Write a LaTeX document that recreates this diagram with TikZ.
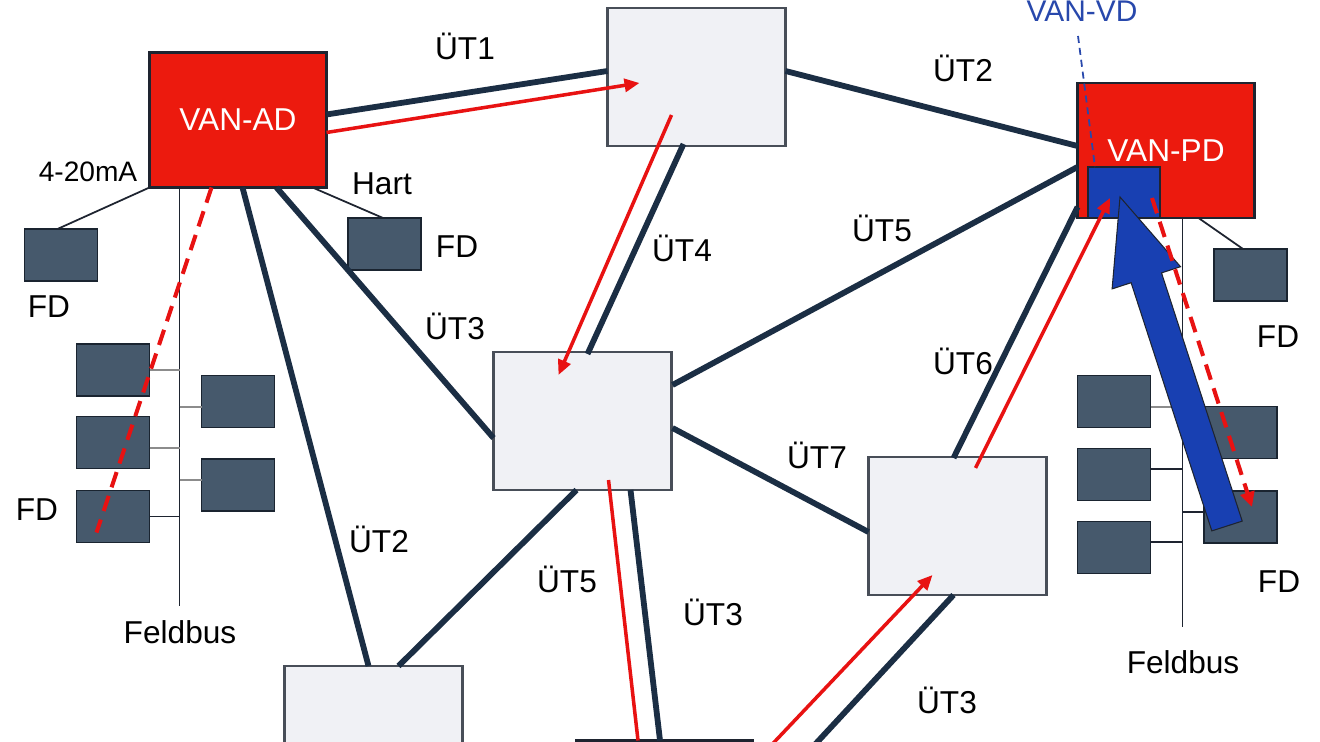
\documentclass[tikz,border=0pt]{standalone}
\usepackage{fontspec}
\setmainfont{Liberation Sans}
\usetikzlibrary{calc,arrows.meta}
\definecolor{navy}{RGB}{27,46,68}
\definecolor{vanred}{RGB}{236,26,14}
\definecolor{flowred}{RGB}{232,18,18}
\definecolor{edge}{RGB}{30,36,48}
\definecolor{sitefill}{RGB}{240,241,245}
\definecolor{siteedge}{RGB}{72,78,88}
\definecolor{fdfill}{RGB}{70,89,108}
\definecolor{fdedge}{RGB}{26,36,48}
\definecolor{vdblue}{RGB}{24,64,178}
\definecolor{vdtext}{RGB}{40,72,172}
\definecolor{tapgray}{RGB}{140,140,140}
\newcommand\lblfont{\fontsize{18}{21}\selectfont}
\begin{document}
\begin{tikzpicture}[x=0.2mm,y=-0.2mm,
  vanbox/.style={draw=edge,fill=vanred,line width=1.4pt,minimum width=35.4mm,minimum height=27mm,inner sep=0,outer sep=0,text=white,font=\lblfont},
  sitebox/.style={draw=siteedge,fill=sitefill,line width=1.2pt,minimum width=35.6mm,minimum height=27.6mm,inner sep=0,outer sep=0},
  fdbox/.style={draw=fdedge,fill=fdfill,line width=1.1pt,minimum width=14.6mm,minimum height=10.4mm,inner sep=0,outer sep=0},
  vdbox/.style={draw=edge,fill=vdblue,line width=1.1pt,minimum width=14.4mm,minimum height=10.2mm,inner sep=0,outer sep=0},
  lbl/.style={font=\lblfont,anchor=base,inner sep=0,text=black},
  link/.style={draw=navy,line width=3.3pt},
  flow/.style={draw=flowred,line width=2pt,-{Triangle[length=3mm,width=2.6mm]}},
  plainflow/.style={draw=flowred,line width=2pt},
  dashflow/.style={draw=flowred,line width=2.3pt,dash pattern=on 3.2mm off 1.8mm},
  bus/.style={draw=edge,line width=0.9pt},
  tap/.style={draw=tapgray,line width=1.2pt},
  tapdark/.style={draw=edge,line width=1pt},
  thin/.style={draw=edge,line width=1pt},
  vdline/.style={draw=vdtext,line width=1pt,dash pattern=on 1.4mm off 1mm},
  bigarrow/.style={fill=vdblue,draw=edge,line width=0.6pt}
]
\useasboundingbox (0,0) rectangle (1320,742);
\clip (0,0) rectangle (1320,742);
\fill[white] (0,0) rectangle (1320,742);

% main boxes
\node[vanbox] (ad) at (238,120) {VAN-AD};
\node[sitebox] (t) at (696.5,77) {};
\node[vanbox] (pd) at (1166,150.5) {VAN-PD};
\node[vdbox] (vd) at (1124,192.5) {};
\node[sitebox] (m) at (582.5,421) {};
\node[sitebox] (b3) at (957.5,526) {};
\node[sitebox] (b4) at (373.5,735) {};
\node[vanbox] (b5) at (664.5,808) {};

% field devices left
\node[fdbox] (fd1) at (61,255) {};
\node[fdbox] (fdh) at (384.5,244) {};
\node[fdbox] (la) at (113,370) {};
\node[fdbox] (lb) at (113,442.5) {};
\node[fdbox] (lc) at (113,516.5) {};
\node[fdbox] (ld) at (238,401.5) {};
\node[fdbox] (le) at (238,485) {};
% field devices right
\node[fdbox] (fdr) at (1250.5,275) {};
\node[fdbox] (rf) at (1114,401.5) {};
\node[fdbox] (rg) at (1114,474.5) {};
\node[fdbox] (rh) at (1114,547.5) {};
\node[fdbox] (ri) at (1240.5,432.5) {};
\node[fdbox] (rj) at (1240.5,517) {};

% field buses
\coordinate (busL) at ($(ad.south west)+(30,0)$);
\coordinate (busLend) at ($(busL)+(0,418)$);
\draw[bus] (busL) -- (busLend);
\draw[tap] (la.east) -- (la.east -| busL);
\draw[tap] ([yshift=-3pt]lb.east) -- ([yshift=-3pt]lb.east -| busL);
\draw[tapdark] (lc.east) -- (lc.east -| busL);
\draw[tap] ([yshift=-3pt]ld.west -| busL) -- ([yshift=-3pt]ld.west);
\draw[tap] ([yshift=3pt]le.west -| busL) -- ([yshift=3pt]le.west);

\coordinate (busR) at ($(pd.south west)+(105,0)$);
\coordinate (busRend) at ($(busR)+(0,409)$);
\draw[bus] (busR) -- (busRend);
\draw[tap] ([yshift=-3pt]rf.east) -- ([yshift=-3pt]rf.east -| busR);
\draw[tapdark] ([yshift=3pt]rg.east) -- ([yshift=3pt]rg.east -| busR);
\draw[tapdark] ([yshift=3pt]rh.east) -- ([yshift=3pt]rh.east -| busR);
\draw[tapdark] (ri.west -| busR) -- (ri.west);
\draw[tapdark] ([yshift=3pt]rj.west -| busR) -- ([yshift=3pt]rj.west);

% 4-20mA, Hart lines
\draw[thin] (ad.south west) -- ($(fd1.north west)+(33,0)$);
\draw[thin] ($(ad.south west)+(163,0)$) -- ($(fdh.north west)+(35,0)$);
\draw[thin] ($(pd.south west)+(121,0)$) -- ($(fdr.north west)+(29,0)$);

% transmission links (dark)
\draw[link] ($(ad.north west)+(177,62)$) -- ($(t.north west)+(0,63)$);
\draw[link] ($(t.north west)+(178,63)$) -- ($(pd.north west)+(0,63)$);
\draw[link] ($(t.north west)+(76,136)$) -- ($(m.north west)+(94,2)$);
\draw[link] ($(m.north west)+(179,33)$) -- ($(pd.north west)+(0,84)$);
\draw[link] ($(ad.south west)+(127,0)$) -- ($(m.north west)+(0,86)$);
\draw[link] ($(ad.south west)+(93,0)$) -- ($(b4.north west)+(84,0)$);
\draw[link] ($(b4.north west)+(114,0)$) -- ($(m.south west)+(83,0)$);
\draw[link] ($(m.north west)+(179,76)$) -- ($(b3.north west)+(0,75)$);
\draw[link] ($(b3.north west)+(85,1)$) -- ($(pd.north west)+(0,124)$);
\draw[link] ($(m.south west)+(137,0)$) -- ($(b5.north west)+(84,0)$);
\draw[link] ($(b3.south west)+(85,0)$) -- ($(b5.north west)+(214,31)$);

% red flows
\draw[flow] ($(ad.north west)+(177,80)$) -- ($(t.north west)+(32,75)$);
\draw[flow] ($(t.north west)+(64,107)$) -- ($(m.north west)+(65,23)$);
\draw[flow] ($(b3.north west)+(107,11)$) -- ($(vd.north west)+(22,31)$);
\draw[plainflow] ($(m.south west)+(115,-10)$) -- ($(b5.north west)+(62,0)$);
\draw[flow] ($(b5.north west)+(177,24)$) -- ($(b3.south west)+(64,-20)$);

% dashed red paths
\draw[dashflow] ($(ad.south west)+(62,0)$) -- ($(lc.north west)+(20,42)$);

% VAN-VD marker
\node[lbl,text=vdtext,font=\fontsize{17}{20}\selectfont] (vdlbl) at (1082,22) {VAN-VD};
\coordinate (vdtop) at (1078,36);
\draw[vdline] (vdtop) -- ($(vd.north west)+(7,0)$);

% big blue arrow
\draw[bigarrow] (1120,197) -- (1180.5,266.7) -- (1161.5,272.9) -- (1242.2,521.1)
  -- (1211.8,530.9) -- (1131.1,282.7) -- (1112.1,288.9) -- cycle;

\draw[dashflow,-{Triangle[length=3mm,width=2.8mm]}] ($(vd.north west)+(64,31)$) -- ($(rj.north west)+(48,16)$);

% labels
\node[lbl] (u1) at (465,60) {ÜT1};
\node[lbl] (u2a) at (963,82) {ÜT2};
\node[lbl] (u4) at (682,262) {ÜT4};
\node[lbl] (u5a) at (882,242) {ÜT5};
\node[lbl] (u3a) at (455,340) {ÜT3};
\node[lbl] (u6) at (963,375) {ÜT6};
\node[lbl] (u7) at (817,468) {ÜT7};
\node[lbl] (u2b) at (379,552) {ÜT2};
\node[lbl] (u5b) at (567,592) {ÜT5};
\node[lbl] (u3b) at (713,625) {ÜT3};
\node[lbl] (u3c) at (947,713) {ÜT3};
\node[lbl,font=\fontsize{16}{19}\selectfont] (ma) at (88,182) {4-20mA};
\node[lbl] (hart) at (382,195) {Hart};
\node[lbl] (fdl1) at (49,318) {FD};
\node[lbl] (fdl2) at (457,258) {FD};
\node[lbl] (fdl3) at (37,520) {FD};
\node[lbl] (fbl) at (180,643) {Feldbus};
\node[lbl] (fdr1) at (1278,348) {FD};
\node[lbl] (fdr2) at (1279,592) {FD};
\node[lbl] (fbr) at (1183,673) {Feldbus};
\end{tikzpicture}
\end{document}
